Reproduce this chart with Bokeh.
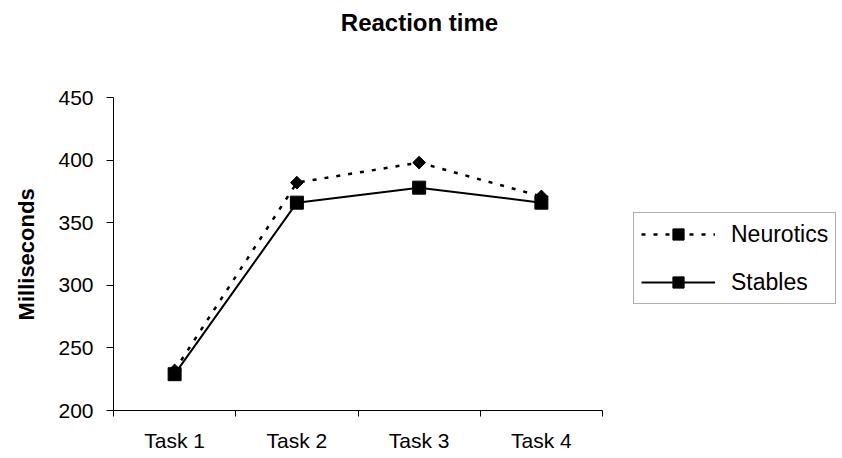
import numpy as np
from bokeh.plotting import figure
from bokeh.models import (Range1d, FixedTicker, CustomJSTickFormatter, Legend,
                          LegendItem, ColumnDataSource, Label)
from bokeh.embed import file_html
from bokeh.resources import INLINE

categories = ["Task 1", "Task 2", "Task 3", "Task 4"]
neurotics = [232, 382, 398, 371]
stables = [229, 366, 378, 366]
y_ticks = [200, 250, 300, 350, 400, 450]
title_text = "Reaction time"
y_label = "Milliseconds"

FONT = "Liberation Sans"

# layout: the frame spans to the right/top edges so that the legend and the
# title can sit inside it; axes are limited to the data area with `bounds`.
W, H = 842, 458
AX_L, AX_R, AX_T, AX_B = 113, 602, 97, 410
n_cat = len(categories)
x_end = n_cat * (W - AX_L) / (AX_R - AX_L)
y0, y1 = y_ticks[0], y_ticks[-1]
y_end = y1 + (AX_T - 0) * (y1 - y0) / (AX_B - AX_T)

x_pos = [i + 0.5 for i in range(n_cat)]
src = ColumnDataSource(dict(x=x_pos, n=neurotics, s=stables))

p = figure(width=W, height=H, output_backend="svg", toolbar_location=None,
           x_range=Range1d(0, x_end), y_range=Range1d(y0, y_end),
           min_border_left=AX_L, min_border_right=0, min_border_top=0,
           min_border_bottom=H - AX_B, background_fill_color="white",
           border_fill_color="white")
p.outline_line_color = None
p.grid.visible = False

# x axis: labels at category centres, ticks at boundaries
xa = p.xaxis[0]
xa.bounds = (0, n_cat)
xa.ticker = FixedTicker(ticks=x_pos, minor_ticks=list(range(n_cat + 1)))
xa.formatter = CustomJSTickFormatter(args=dict(labels=categories),
                                     code="return labels[Math.round(tick - 0.5)]")
xa.major_tick_line_color = None
xa.minor_tick_out = 6
xa.minor_tick_in = 0
xa.minor_tick_line_color = "black"
xa.axis_line_color = "black"
xa.major_label_text_font = FONT
xa.major_label_text_font_size = "21px"
xa.major_label_standoff = 12
xa.major_label_text_color = "black"

ya = p.yaxis[0]
ya.bounds = (y0, y1)
ya.ticker = FixedTicker(ticks=y_ticks, minor_ticks=[])
ya.major_tick_out = 7
ya.major_tick_in = 0
ya.major_tick_line_color = "black"
ya.axis_line_color = "black"
ya.major_label_text_font = FONT
ya.major_label_text_font_size = "21px"
ya.major_label_standoff = 13
ya.major_label_text_color = "black"
# trailing no-break spaces shift the centred label down to the data area's middle
ya.axis_label = y_label + "\u00a0" * 16
ya.axis_label_text_font = FONT
ya.axis_label_text_font_size = "22px"
ya.axis_label_text_font_style = "bold"
ya.axis_label_text_color = "black"
ya.axis_label_standoff = 16

ln = p.line("x", "n", source=src, line_color="black", line_width=2.5, line_dash="4 8")
mn = p.scatter("x", "n", source=src, marker="square", angle=np.pi / 4, size=9,
               fill_color="black", line_color="black")
ls = p.line("x", "s", source=src, line_color="black", line_width=2)
ms = p.scatter("x", "s", source=src, marker="square", size=13,
               fill_color="black", line_color="black")

title = Label(x=419 - AX_L, y=AX_B - 22, x_units="screen", y_units="screen",
              text=title_text, text_font=FONT, text_font_size="24px",
              text_font_style="bold", text_color="black", text_align="center",
              text_baseline="alphabetic")
p.add_layout(title)

legend = Legend(items=[LegendItem(label="Neurotics", renderers=[ln, mn]),
                       LegendItem(label="Stables", renderers=[ls, ms])],
                location=(633 - AX_L, AX_B - 304))
legend.label_text_font = FONT
legend.label_text_font_size = "23px"
legend.label_text_color = "black"
legend.glyph_width = 74
legend.glyph_height = 28
legend.label_height = 28
legend.label_standoff = 16
legend.spacing = 20
legend.padding = 7
legend.margin = 0
legend.border_line_color = "#606060"
legend.border_line_width = 1
legend.background_fill_alpha = 1
p.add_layout(legend, "center")

open("out.html", "w").write(file_html(p, INLINE))
